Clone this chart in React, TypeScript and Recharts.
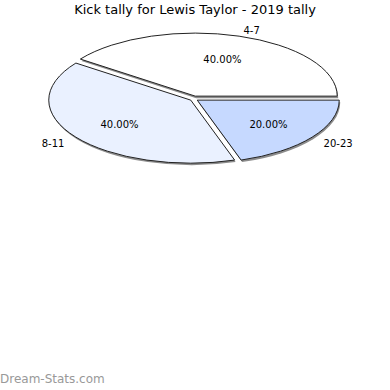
import React from "react";
import { PieChart, Pie, Cell } from "recharts";

const categories = ["4-7", "8-11", "20-23"];
const kicks = [2, 2, 1];
const sliceColors = ["#ffffff", "#eaf1ff", "#c6d9ff"];

const data = categories.map((name, i) => ({ name, value: kicks[i] }));

const FONT = "'DejaVu Sans', sans-serif";
const SQUASH = 0.444; // vertical squeeze of the flat pie
const EXPLODE = 4;
const RAD = Math.PI / 180;

function explodeOffset(mid: number) {
  return {
    dx: EXPLODE * Math.cos(mid * RAD),
    dy: -EXPLODE * Math.sin(mid * RAD) * 0.65,
  };
}

function ellipsePoint(cx: number, cy: number, rx: number, ry: number, a: number) {
  return { x: cx + rx * Math.cos(a * RAD), y: cy - ry * Math.sin(a * RAD) };
}

function slicePath(cx: number, cy: number, rx: number, ry: number, a0: number, a1: number) {
  const p0 = ellipsePoint(cx, cy, rx, ry, a0);
  const p1 = ellipsePoint(cx, cy, rx, ry, a1);
  const large = Math.abs(a1 - a0) > 180 ? 1 : 0;
  return `M${cx},${cy} L${p0.x},${p0.y} A${rx},${ry} 0 ${large} 0 ${p1.x},${p1.y} Z`;
}

const renderSlice = (props: any) => {
  const { cx, cy, outerRadius, startAngle, endAngle, midAngle, fill } = props;
  const { dx, dy } = explodeOffset(midAngle);
  const d = slicePath(cx + dx, cy + dy, outerRadius, outerRadius * SQUASH, startAngle, endAngle);
  return (
    <g>
      <path d={d} transform="translate(1,2)" fill="#8c8c8c" />
      <path d={d} fill={fill} stroke="#222" strokeWidth={1} />
    </g>
  );
};

const renderLabel = (props: any) => {
  const { cx, cy, outerRadius, midAngle, percent, name } = props;
  const { dx, dy } = explodeOffset(midAngle);
  const rx = outerRadius;
  const ry = outerRadius * SQUASH;
  const inner = ellipsePoint(cx + dx, cy + dy, rx * 0.62, ry * 0.62, midAngle);
  const outer = ellipsePoint(cx + dx, cy + dy, rx * 1.1, ry * 1.12, midAngle);
  const anchor = Math.cos(midAngle * RAD) >= 0 ? "start" : "end";
  return (
    <g>
      <text x={inner.x} y={inner.y + 1} textAnchor="middle" dominantBaseline="central"
        fontSize={10} fontFamily={FONT} fill="#000">
        {(percent * 100).toFixed(2)}%
      </text>
      <text x={outer.x} y={outer.y + 1.5} textAnchor={anchor} dominantBaseline="central"
        fontSize={10} fontFamily={FONT} fill="#000">
        {name}
      </text>
    </g>
  );
};

export default function App() {
  return (
    <div style={{ position: "absolute", left: 0, top: 0, width: 390, height: 390, background: "#fff" }}>
      <div style={{ position: "absolute", left: 0, top: 2, width: 390, textAlign: "center",
        fontFamily: FONT, fontSize: 13, color: "#000" }}>
        Kick tally for Lewis Taylor - 2019 tally
      </div>
      <PieChart width={390} height={390} margin={{ top: 0, right: 0, bottom: 0, left: 0 }}>
        <Pie
          data={data}
          dataKey="value"
          nameKey="name"
          cx={194}
          cy={98.6}
          outerRadius={142}
          startAngle={0}
          endAngle={360}
          stroke="#222"
          shape={renderSlice}
          label={renderLabel}
          labelLine={false}
          isAnimationActive={false}
        >
          {data.map((d, i) => (
            <Cell key={d.name} fill={sliceColors[i]} />
          ))}
        </Pie>
      </PieChart>
      <div style={{ position: "absolute", left: 0, top: 372, fontFamily: FONT, fontSize: 12, color: "#999" }}>
        Dream-Stats.com
      </div>
    </div>
  );
}
